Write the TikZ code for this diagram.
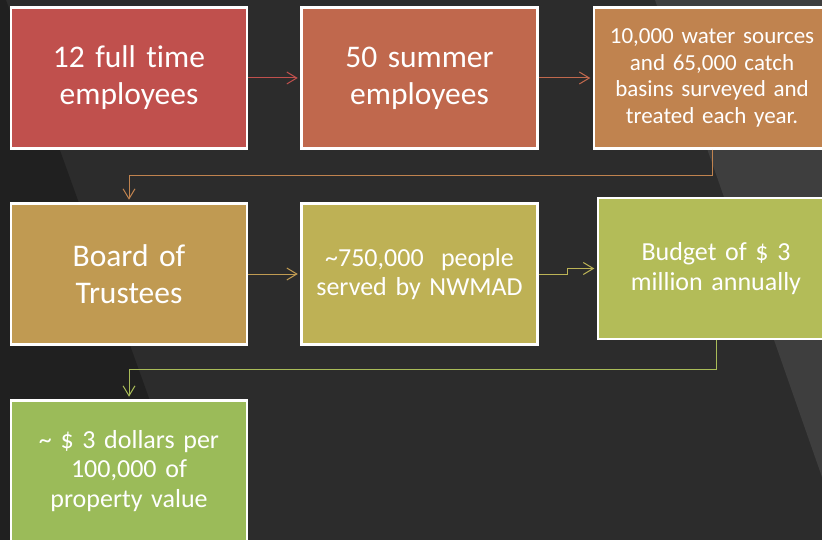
\documentclass[tikz,border=0pt]{standalone}
\usepackage{fontspec}
\setmainfont{Carlito}[Ligatures={NoCommon}]
\usetikzlibrary{arrows.meta}
\definecolor{bgmain}{HTML}{2C2C2C}
\definecolor{bgdark}{HTML}{202020}
\definecolor{bglight}{HTML}{3E3E3E}
\definecolor{cA}{HTML}{C0504D}
\definecolor{cB}{HTML}{C0684D}
\definecolor{cC}{HTML}{C0834F}
\definecolor{cD}{HTML}{C09A52}
\definecolor{cE}{HTML}{BEB155}
\definecolor{cF}{HTML}{B3BC58}
\definecolor{cG}{HTML}{9BBB59}
\tikzset{
  box/.style={draw=white, line width=2.5pt, minimum width=236pt, minimum height=141pt,
    inner sep=3pt, text=white, align=center, text width=230pt},
  bigtxt/.style={font=\fontsize{31.5}{37}\selectfont},
  midtxt/.style={font=\fontsize{26}{29.5}\selectfont},
  smalltxt/.style={font=\fontsize{23}{26.5}\selectfont},
  conn/.style={line width=1pt, -{Straight Barb[length=10pt,width=12pt,line width=1pt]}, shorten >=2.5pt}
}
\begin{document}
\begin{tikzpicture}[x=1pt,y=-1pt]
\useasboundingbox (0,0) rectangle (822,540);
\fill[bgmain] (0,0) rectangle (822,540);
\fill[bgdark] (0,0) -- (6,0) -- (200,540) -- (0,540) -- cycle;
\fill[bglight] (655,0) -- (822,0) -- (822,477) -- cycle;

\node[box, fill=cA, bigtxt] (b1) at (129,78) {12 full time\\employees};
\node[box, fill=cB, bigtxt] (b2) at (419.5,78) {50 summer\\employees};
\node[box, fill=cC, smalltxt] (b3) at (712,78) {10,000 water sources\\and 65,000 catch\\basins surveyed and\\treated each year.};
\node[box, fill=cD, bigtxt] (b4) at (129,274) {Board of\\Trustees};
\node[box, fill=cE, midtxt] (b5) at (419.5,274) {\textasciitilde750,000~ people\\served by NWMAD};
\node[box, fill=cF, midtxt] (b6) at (716,268.5) {Budget of \$ 3\\million annually};
\node[box, fill=cG, midtxt] (b7) at (129,471) {\textasciitilde{} \$ 3 dollars per\\100,000 of\\property value};

\draw[conn, draw=cA] (b1.east) -- (b2.west);
\draw[conn, draw=cB] (b2.east) -- (b3.west);
\draw[conn, draw=cC] (b3.south) -- ++(0,26) -| (b4.north);
\draw[conn, draw=cD!95!cE] (b4.east) -- (b5.west);
\draw[conn, draw=cE!80!cF] (b5.east) -- ++(29,0) |- (b6.west);
\draw[conn, draw=cF!60!cG] (b6.south) -- ++(0,29) -| (b7.north);
\end{tikzpicture}
\end{document}
